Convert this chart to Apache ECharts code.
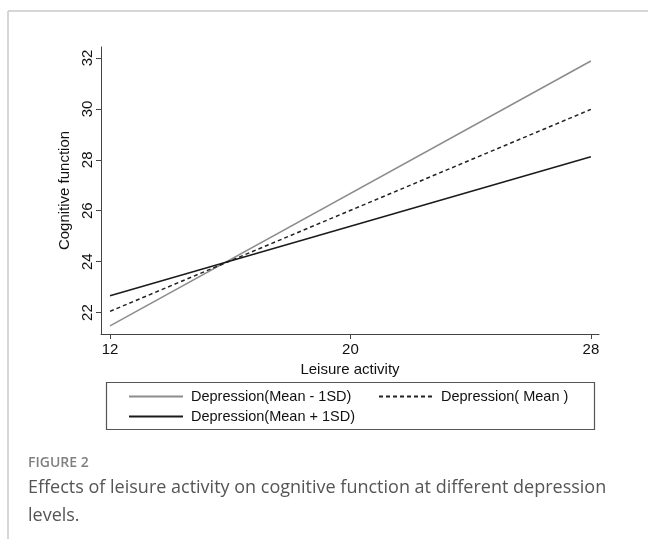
<!DOCTYPE html>
<html>
<head>
<meta charset="utf-8">
<script src="https://cdn.jsdelivr.net/npm/echarts@6/dist/echarts.min.js"></script>
<style>
  html, body { margin: 0; padding: 0; background: #fff; }
  #main { width: 648px; height: 539px; }
</style>
</head>
<body>
<div id="main"></div>
<script>
  // leisure activity at the two ends of each simple slope
  var leisure = [12, 28];
  // cognitive function for each depression level
  var depLow = [21.48, 31.88];   // Mean - 1SD
  var depMean = [22.05, 29.98];  // Mean
  var depHigh = [22.66, 28.12];  // Mean + 1SD
  var xTicks = [12, 20, 28];
  var yTicks = [22, 24, 26, 28, 30, 32];
  var names = ['Depression(Mean - 1SD)', 'Depression( Mean )', 'Depression(Mean + 1SD)'];

  function pairs(ys) {
    return leisure.map(function (x, i) { return [x, ys[i]]; });
  }

  var font = 'Liberation Sans, Arial, sans-serif';
  var chart = echarts.init(document.getElementById('main'));

  var legendText = { color: '#111', fontSize: 14.5, fontFamily: font, padding: [0, 0, 0, 3] };
  function oneLegend(name, left, top) {
    return {
      data: [name], left: left, top: top, padding: 0,
      itemWidth: 54, itemHeight: 12, textStyle: legendText,
      itemStyle: { opacity: 0 },   // hide the marker dot, keep only the line
      selectedMode: false
    };
  }

  chart.setOption({
    animation: false,
    grid: { left: 101, right: 49, top: 47, bottom: 205 },
    xAxis: {
      type: 'value', min: 11.7, max: 28.27,
      name: 'Leisure activity', nameLocation: 'middle', nameGap: 27,
      nameTextStyle: { color: '#111', fontSize: 15, fontFamily: font },
      splitLine: { show: false },
      axisLine: { lineStyle: { color: '#444', width: 1 } },
      axisTick: { customValues: xTicks, length: 5, lineStyle: { color: '#444' } },
      axisLabel: { customValues: xTicks, color: '#111', fontSize: 15, fontFamily: font, margin: 8 }
    },
    yAxis: {
      type: 'value', min: 21.16, max: 32.43,
      name: 'Cognitive function', nameLocation: 'middle', nameGap: 28, nameRotate: 90,
      nameTextStyle: { color: '#111', fontSize: 15, fontFamily: font },
      splitLine: { show: false },
      axisLine: { show: true, lineStyle: { color: '#444', width: 1 } },
      axisTick: { show: true, customValues: yTicks, length: 5, lineStyle: { color: '#444' } },
      axisLabel: { customValues: yTicks, rotate: 90, color: '#111', fontSize: 15, fontFamily: font, margin: 6 }
    },
    legend: [
      oneLegend(names[0], 128, 389),
      oneLegend(names[1], 378, 389),
      oneLegend(names[2], 128, 409)
    ],
    series: [
      { name: names[0], type: 'line', symbol: 'none', data: pairs(depLow),
        lineStyle: { color: '#8c8c8c', width: 1.5 }, itemStyle: { color: '#8c8c8c' } },
      { name: names[1], type: 'line', symbol: 'none', data: pairs(depMean),
        lineStyle: { color: '#222', width: 1.5, type: [4, 3] }, itemStyle: { color: '#222' } },
      { name: names[2], type: 'line', symbol: 'none', data: pairs(depHigh),
        lineStyle: { color: '#1a1a1a', width: 1.5 }, itemStyle: { color: '#1a1a1a' } }
    ],
    graphic: [
      { type: 'line', shape: { x1: 8, y1: 11, x2: 648, y2: 11 }, style: { stroke: '#c8c8c8', lineWidth: 1.5 } },
      { type: 'line', shape: { x1: 8, y1: 11, x2: 8, y2: 539 }, style: { stroke: '#c8c8c8', lineWidth: 1.5 } },
      { type: 'rect', shape: { x: 106.5, y: 382.5, width: 488, height: 47 },
        style: { fill: 'none', stroke: '#555', lineWidth: 1.2 } },
      { type: 'text', left: 28, top: 456,
        style: { text: 'FIGURE 2', fill: '#808080', font: '600 14px "Open Sans", sans-serif' } },
      { type: 'text', left: 28, top: 479,
        style: { text: 'Effects of leisure activity on cognitive function at different depression',
                 fill: '#555', font: '18px "Open Sans", sans-serif' } },
      { type: 'text', left: 28, top: 507,
        style: { text: 'levels.', fill: '#555', font: '18px "Open Sans", sans-serif' } }
    ]
  });
</script>
</body>
</html>
